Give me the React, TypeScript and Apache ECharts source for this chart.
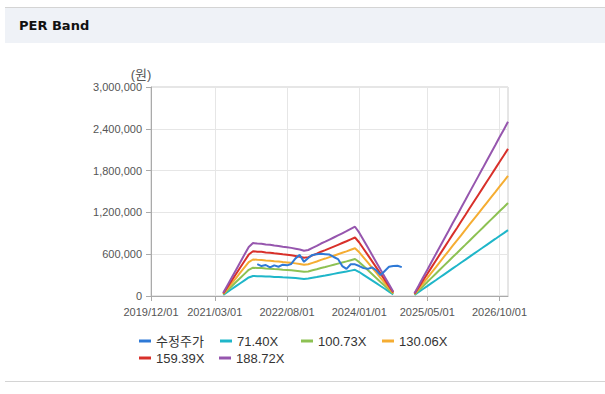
import React, { useEffect, useRef } from "react";
import * as echarts from "echarts";

// Monthly categories 2019/12 .. 2026/12
const MONTHS: string[] = (() => {
  const out: string[] = [];
  for (let i = 0; i < 85; i++) {
    const y = 2019 + Math.floor((11 + i) / 12);
    const m = ((11 + i) % 12) + 1;
    out.push(`${y}/${String(m).padStart(2, "0")}/01`);
  }
  return out;
})();

const TICK_LABELS = ["2019/12/01", "2021/03/01", "2022/08/01", "2024/01/01", "2025/05/01", "2026/10/01"];

const Y_TICKS = [0, 600000, 1200000, 1800000, 2400000, 3000000];
const Y_UNIT = "(원)";

// EPS basis (원) behind the PER bands, per month
const EPS: (number | null)[] = [
  ...Array(17).fill(null),
  240, 820, 1400, 1985, 2570, 3150, 3730, 4030, 3990, 3975, 3925, 3900, 3840, 3810, 3750, 3710,
  3660, 3600, 3540, 3440, 3500, 3660, 3810, 3990, 4130, 4290, 4450, 4610, 4770, 4930, 5100, 5270,
  4820, 4260, 3700, 3140, 2575, 2010, 1450, 890, 330,
  null, null, null, null,
  210, 800, 1400, 1985, 2580, 3170, 3770, 4360, 4950, 5550, 6130, 6730, 7320, 7920, 8510, 9100,
  9690, 10290, 10880, 11470, 12070, 12650, 13250,
];

// 수정주가 (adjusted price), per month
const PRICE: (number | null)[] = [
  ...Array(25).fill(null),
  457000, 430000, 445000, 410000, 440000, 420000, 450000, 440000, 460000, 540000, 590000, 490000,
  545000, 590000, 600000, 605000, 600000, 595000, 560000, 530000, 430000, 390000, 455000, 455000,
  430000, 400000, 390000, 410000, 370000, 300000, 360000, 420000, 430000, 435000, 415000,
  ...Array(25).fill(null),
];

const PER_MULTIPLES = [71.4, 100.73, 130.06, 159.39, 188.72];
const BAND_NAMES = ["71.40X", "100.73X", "130.06X", "159.39X", "188.72X"];
const PRICE_NAME = "수정주가";
const COLORS = ["#2e79d6", "#1fb6c9", "#8dc153", "#f5ad32", "#d8302a", "#9656ae"];

const FONT = "'Liberation Sans', Arial, 'Noto Sans CJK KR', sans-serif";

export default function App() {
  const ref = useRef<HTMLDivElement>(null);

  useEffect(() => {
    if (!ref.current) return;
    const chart = echarts.init(ref.current, null, { renderer: "svg" });
    const isTick = (_i: number, v: string) => TICK_LABELS.includes(v);

    const bandSeries = PER_MULTIPLES.map((m, k) => ({
      name: BAND_NAMES[k],
      type: "line" as const,
      data: EPS.map((e) => (e == null ? null : Math.round(e * m))),
      showSymbol: false,
      symbol: "none",
      connectNulls: false,
      lineStyle: { width: 2, color: COLORS[k + 1] },
      itemStyle: { color: COLORS[k + 1] },
      z: 2,
    }));

    const legendNames = [PRICE_NAME, ...BAND_NAMES];
    const legendPos = [
      [139, 334],
      [220, 334],
      [301, 334],
      [382, 334],
      [139, 351],
      [219, 351],
    ];

    chart.setOption({
      animation: false,
      backgroundColor: "#ffffff",
      title: {
        text: "PER Band",
        left: 19,
        top: 19,
        padding: 0,
        textStyle: { fontSize: 13, fontWeight: "bold", color: "#111", fontFamily: "'DejaVu Sans', sans-serif" },
      },
      graphic: [
        { type: "rect", z: 0, silent: true, shape: { x: 5, y: 8, width: 600, height: 35 }, style: { fill: "#eff2f7" } },
        { type: "line", z: 0, silent: true, shape: { x1: 5, y1: 7.5, x2: 605, y2: 7.5 }, style: { stroke: "#d4d4d4", lineWidth: 1 } },
        { type: "line", z: 0, silent: true, shape: { x1: 5, y1: 381.5, x2: 605, y2: 381.5 }, style: { stroke: "#d4d4d4", lineWidth: 1 } },
        {
          type: "text",
          z: 5,
          silent: true,
          x: 141,
          y: 81,
          style: {
            text: Y_UNIT,
            align: "center",
            verticalAlign: "bottom",
            fontSize: 13,
            fill: "#555",
            fontFamily: FONT,
          },
        },
      ],
      legend: legendNames.map((n, i) => ({
        data: [n],
        left: legendPos[i][0],
        top: legendPos[i][1],
        padding: 0,
        icon: "rect",
        itemWidth: 12,
        itemHeight: 3,
        itemGap: 0,
        selectedMode: false,
        textStyle: { fontSize: 13, color: "#333", fontFamily: FONT, lineHeight: 14 },
      })),
      grid: {
        left: 151,
        right: 97,
        top: 87,
        bottom: 98,
        show: true,
        borderColor: "#cccccc",
        borderWidth: 1,
        outerBoundsMode: "none",
      },
      xAxis: {
        type: "category",
        data: MONTHS,
        boundaryGap: false,
        axisLine: { lineStyle: { color: "#aaaaaa" } },
        axisTick: { show: true, interval: isTick, length: 5, lineStyle: { color: "#aaaaaa" } },
        axisLabel: { interval: isTick, color: "#555", fontSize: 11, margin: 10, fontFamily: FONT },
        splitLine: { show: true, interval: isTick, lineStyle: { color: "#e6e6e6" } },
      },
      yAxis: {
        type: "value",
        min: Y_TICKS[0],
        max: Y_TICKS[Y_TICKS.length - 1],
        interval: Y_TICKS[1] - Y_TICKS[0],
        axisLine: { show: true, lineStyle: { color: "#aaaaaa" } },
        axisTick: { show: true, length: 5, lineStyle: { color: "#aaaaaa" } },
        axisLabel: {
          color: "#555",
          fontSize: 11,
          margin: 9,
          fontFamily: FONT,
          formatter: (v: number) => v.toLocaleString("en-US"),
        },
        splitLine: { show: true, lineStyle: { color: "#e6e6e6" } },
      },
      series: [
        {
          name: PRICE_NAME,
          type: "line",
          data: PRICE,
          showSymbol: false,
          symbol: "none",
          connectNulls: false,
          lineStyle: { width: 2, color: COLORS[0] },
          itemStyle: { color: COLORS[0] },
          z: 3,
        },
        ...bandSeries,
      ],
    });
    return () => chart.dispose();
  }, []);

  return (
    <div style={{ position: "fixed", left: 0, top: 0, width: 605, height: 394, background: "#fff" }}>
      <div ref={ref} style={{ width: 605, height: 394 }} />
    </div>
  );
}
